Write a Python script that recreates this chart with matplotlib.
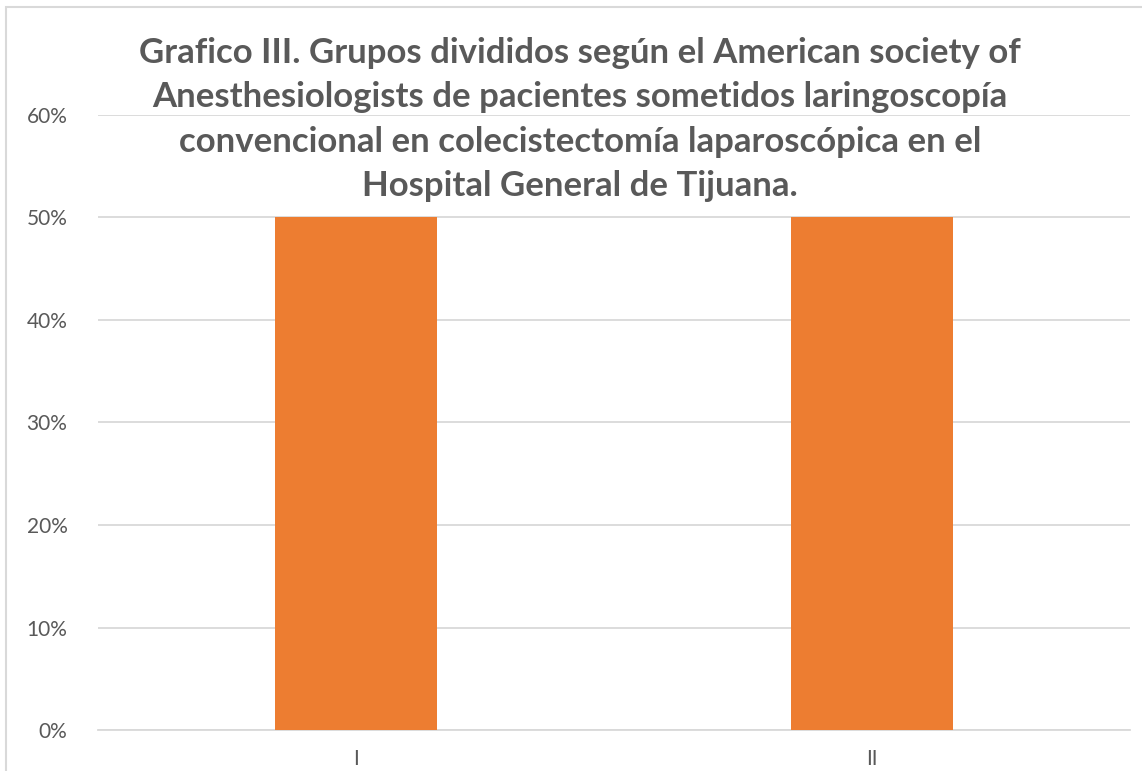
import matplotlib
matplotlib.use("Agg")
import matplotlib.pyplot as plt
from matplotlib.patches import Rectangle
from matplotlib.ticker import PercentFormatter

# data
grupos = ["I", "II"]
porcentajes = [0.50, 0.50]
y_ticks = [0, 0.1, 0.2, 0.3, 0.4, 0.5, 0.6]

titulo = ("Grafico III. Grupos divididos según el American society of\n"
          "Anesthesiologists de pacientes sometidos laringoscopía\n"
          "convencional en colecistectomía laparoscópica en el\n"
          "Hospital General de Tijuana.")

gris = "#595959"
naranja = "#ED7D31"

plt.rcParams['font.family'] = ['Lato', 'DejaVu Sans']

W, H = 1142, 771
fig = plt.figure(figsize=(W / 100, H / 100), dpi=100)
fig.patch.set_facecolor("white")

# chart border (cropped at right and bottom)
fig.patches.append(Rectangle((6 / W, -0.05), 1.2, 1 - 7 / H + 0.05,
                             transform=fig.transFigure, fill=False,
                             edgecolor="#D9D9D9", linewidth=1.5))

ax = fig.add_axes([98 / W, 1 - 730 / H, (1130 - 98) / W, (730 - 115) / H])
x = range(len(grupos))
ax.bar(x, porcentajes, width=0.314, color=naranja, zorder=3)

ax.set_xlim(-0.5, len(grupos) - 0.5)
ax.set_ylim(0, 0.6)
ax.set_yticks(y_ticks)
ax.yaxis.set_major_formatter(PercentFormatter(1.0, decimals=0))
ax.set_xticks(list(x))
ax.set_xticklabels(grupos)
ax.grid(axis="y", color="#D9D9D9", linewidth=1.3, zorder=0)
for s in ["top", "right", "left"]:
    ax.spines[s].set_visible(False)
ax.spines["bottom"].set_color("#D9D9D9")
ax.spines["bottom"].set_linewidth(1.3)
ax.tick_params(axis="both", length=0, colors=gris, labelsize=15)
ax.tick_params(axis="y", pad=22)
ax.tick_params(axis="x", pad=14)

fig.text(580 / W, 1 - 37 / H, titulo, ha="center", va="top",
         fontsize=25, fontweight="bold", color=gris, linespacing=1.48)

fig.savefig("out.png", dpi=100)
